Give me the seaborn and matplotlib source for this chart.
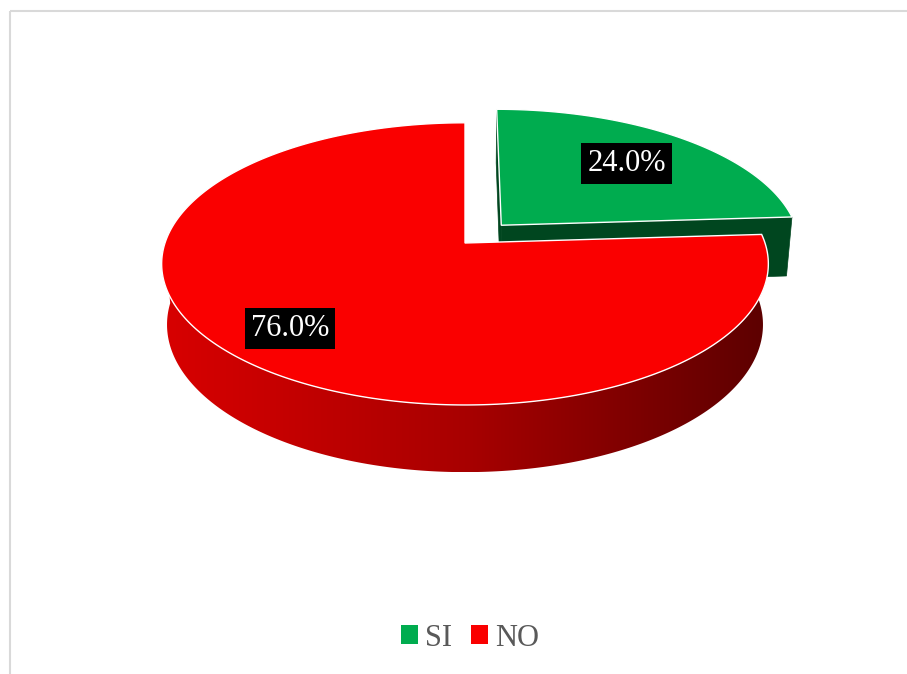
import numpy as np
import seaborn as sns
import matplotlib
matplotlib.use("Agg")
import matplotlib.pyplot as plt
from matplotlib.patches import Polygon, Patch, Rectangle
from matplotlib.colors import LinearSegmentedColormap

sns.set_theme(style="white")
plt.rcParams['font.family'] = ['Liberation Serif', 'DejaVu Serif']

# data
labels = ["SI", "NO"]
values = [24.0, 76.0]
top_colors = ["#00AC4F", "#FA0000"]
side_colors = ["#00461F", "#A00000"]
explode = [0.18, 0.0]
label_r = [0.68, 0.78]

# 3d pie view (perspective)
sin_e = 0.46
cos_e = np.sqrt(1 - sin_e ** 2)
D = 6.0
F = 1800.0
H = 0.23
ox, oy = 465.0, 243.0


def project(X, Y, Z):
    ry = Y - D * sin_e
    rz = Z - D * cos_e
    depth = -sin_e * ry - cos_e * rz
    sx = X / depth * F
    sy = (cos_e * ry - sin_e * rz) / depth * F
    return ox + sx, oy - sy


def rim(a0, a1, ex, ez, y, r=1.0, n=300):
    th = np.radians(np.linspace(a0, a1, n))
    X = r * np.cos(th) + ex
    Z = -r * np.sin(th) + ez
    px, py = project(X, np.full_like(X, y), Z)
    return np.column_stack([px, py])


fig = plt.figure(figsize=(9.07, 6.74), dpi=100)
ax = fig.add_axes([0, 0, 1, 1])

# wedges, clockwise from 12 o'clock
angles = []
start = 90.0
for v in values:
    end = start - v / sum(values) * 360
    angles.append((start, end))
    start = end

offsets = []
for (a0, a1), e in zip(angles, explode):
    mid = np.radians((a0 + a1) / 2)
    offsets.append((e * np.cos(mid), -e * np.sin(mid)))

# green slice (exploded, behind) - cut faces then top
a0, a1 = angles[0]
ex, ez = offsets[0]
for a in (a1, a0):
    t = np.radians(a)
    apex_t = project(ex, 0, ez)
    apex_b = project(ex, -H, ez)
    rt = project(np.cos(t) + ex, 0, -np.sin(t) + ez)
    rb = project(np.cos(t) + ex, -H, -np.sin(t) + ez)
    ax.add_patch(Polygon([apex_t, rt, rb, apex_b], closed=True,
                         facecolor=side_colors[0], edgecolor=side_colors[0], lw=0.5))
top = np.vstack([project(ex, 0, ez), rim(a0, a1, ex, ez, 0)])
ax.add_patch(Polygon(top, closed=True, facecolor=top_colors[0], edgecolor="white", lw=1.0))

# red slice: front side with gradient (from 9 o'clock round to where the green slice starts)
a0, a1 = angles[1]
ex, ez = offsets[1]
side_end = a0 + 360
side_top = rim(180, side_end, ex, ez, 0)
side_bot = rim(180, side_end, ex, ez, -H)[::-1]
side = Polygon(np.vstack([side_top, side_bot]), closed=True, facecolor="none", edgecolor="none")
ax.add_patch(side)
xy = side.get_xy()
cmap = LinearSegmentedColormap.from_list("redside", ["#D80000", "#A80000", "#5C0000"])
grad = np.linspace(0, 1, 256).reshape(1, -1)
im = ax.imshow(grad, cmap=cmap, extent=(xy[:, 0].min(), xy[:, 0].max(), xy[:, 1].max(), xy[:, 1].min()),
               aspect="auto", zorder=1)
im.set_clip_path(side)

top = np.vstack([project(ex, 0, ez), rim(a0, a1, ex, ez, 0, n=500)])
ax.add_patch(Polygon(top, closed=True, facecolor=top_colors[1], edgecolor="white", lw=1.0, zorder=2))

# percentage labels
for (a0, a1), (ex, ez), v, r in zip(angles, offsets, values, label_r):
    mid = np.radians((a0 + a1) / 2)
    lx, ly = project(r * np.cos(mid) + ex, 0, -r * np.sin(mid) + ez)
    ax.text(lx, ly, f"{v:.1f}%", ha="center", va="center", color="white",
            fontsize=22, zorder=5,
            bbox=dict(boxstyle="square,pad=0.2", facecolor="black", edgecolor="none"))

# chart border (right and bottom edges fall outside the picture)
ax.add_patch(Rectangle((10, 11), 1000, 1000, fill=False, edgecolor="#D9D9D9", lw=1.5, zorder=0))

handles = [Patch(facecolor=c, edgecolor="none") for c in top_colors]
ax.legend(handles, labels, loc="center", bbox_to_anchor=(470 / 907, 1 - 638 / 674),
          bbox_transform=fig.transFigure, ncol=2, frameon=False,
          prop={"family": "Liberation Serif", "size": 22}, labelcolor="#595959",
          handlelength=0.55, handleheight=0.55, handletextpad=0.25, columnspacing=0.6)

ax.set_xlim(0, 907)
ax.set_ylim(674, 0)
ax.axis("off")

plt.savefig("out.png", dpi=100, facecolor="white")
